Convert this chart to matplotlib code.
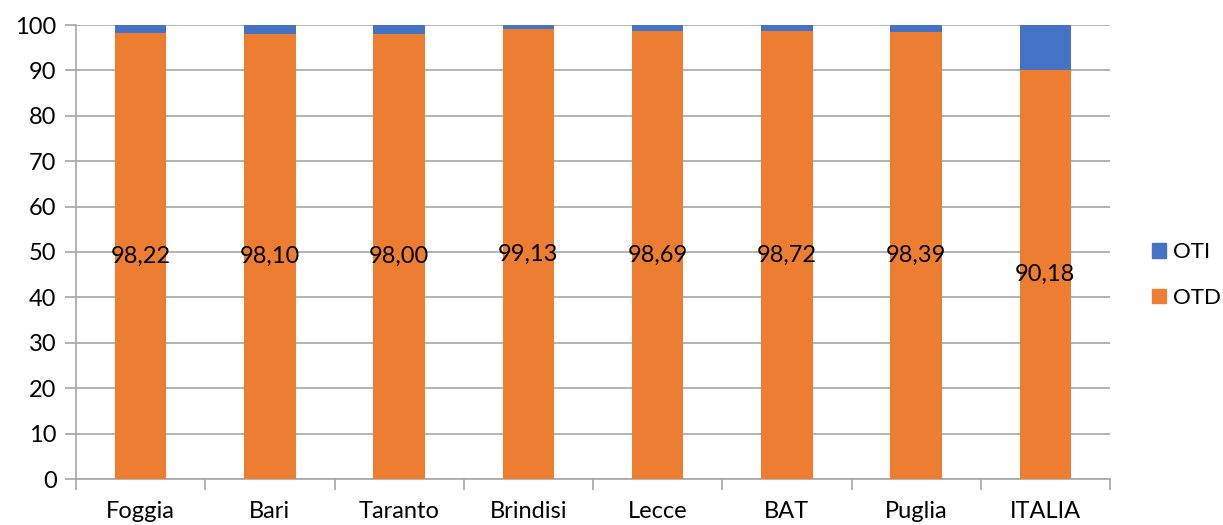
import matplotlib
matplotlib.use("Agg")
import matplotlib.pyplot as plt
from matplotlib.patches import Patch
import numpy as np

categories = ["Foggia", "Bari", "Taranto", "Brindisi", "Lecce", "BAT", "Puglia", "ITALIA"]
otd = [98.22, 98.10, 98.00, 99.13, 98.69, 98.72, 98.39, 90.18]
oti = [100 - v for v in otd]
y_ticks = [0, 10, 20, 30, 40, 50, 60, 70, 80, 90, 100]

ORANGE = "#ED7D31"
BLUE = "#4472C4"
GRID = "#A6A6A6"
FS = 17

plt.rcParams["font.family"] = ["Lato", "DejaVu Sans"]

fig = plt.figure(figsize=(12.23, 5.25), dpi=100)
ax = fig.add_axes([76 / 1223, 1 - 479 / 525, (1110 - 76) / 1223, (479 - 25) / 525])

x = np.arange(len(categories))
width = 0.4
ax.bar(x, otd, width, color=ORANGE, label="OTD", zorder=3)
ax.bar(x, oti, width, bottom=otd, color=BLUE, label="OTI", zorder=3)

for xi, v in zip(x, otd):
    ax.text(xi, v / 2, f"{v:.2f}".replace(".", ","), ha="center", va="center",
            fontsize=FS, color="black", zorder=4)

ax.set_xlim(-0.5, len(categories) - 0.5)
ax.set_ylim(0, 100)
ax.set_yticks(y_ticks)
ax.yaxis.grid(True, color=GRID, linewidth=1.2, zorder=0)
ax.tick_params(axis="y", length=8, width=1.2, color=GRID, labelsize=FS, pad=6)

# category labels centred under each bar, tick marks at the category boundaries
ax.set_xticks(x)
ax.set_xticklabels(categories, fontsize=FS)
ax.tick_params(axis="x", which="major", length=0, pad=16)
ax.set_xticks(np.arange(-0.5, len(categories)), minor=True)
ax.tick_params(axis="x", which="minor", length=8, width=1.2, color=GRID)

for side in ["top", "right"]:
    ax.spines[side].set_visible(False)
ax.spines["left"].set_color(GRID)
ax.spines["left"].set_linewidth(1.2)
ax.spines["bottom"].set_color(GRID)
ax.spines["bottom"].set_linewidth(1.2)

handles = [Patch(color=BLUE, label="OTI"), Patch(color=ORANGE, label="OTD")]
fig.legend(handles=handles, loc="center left", bbox_to_anchor=(1132 / 1223, 1 - 275 / 525),
           frameon=False, fontsize=16, handlelength=0.65, handleheight=0.65,
           handletextpad=0.3, labelspacing=1.15)

fig.savefig("out.png", dpi=100)
